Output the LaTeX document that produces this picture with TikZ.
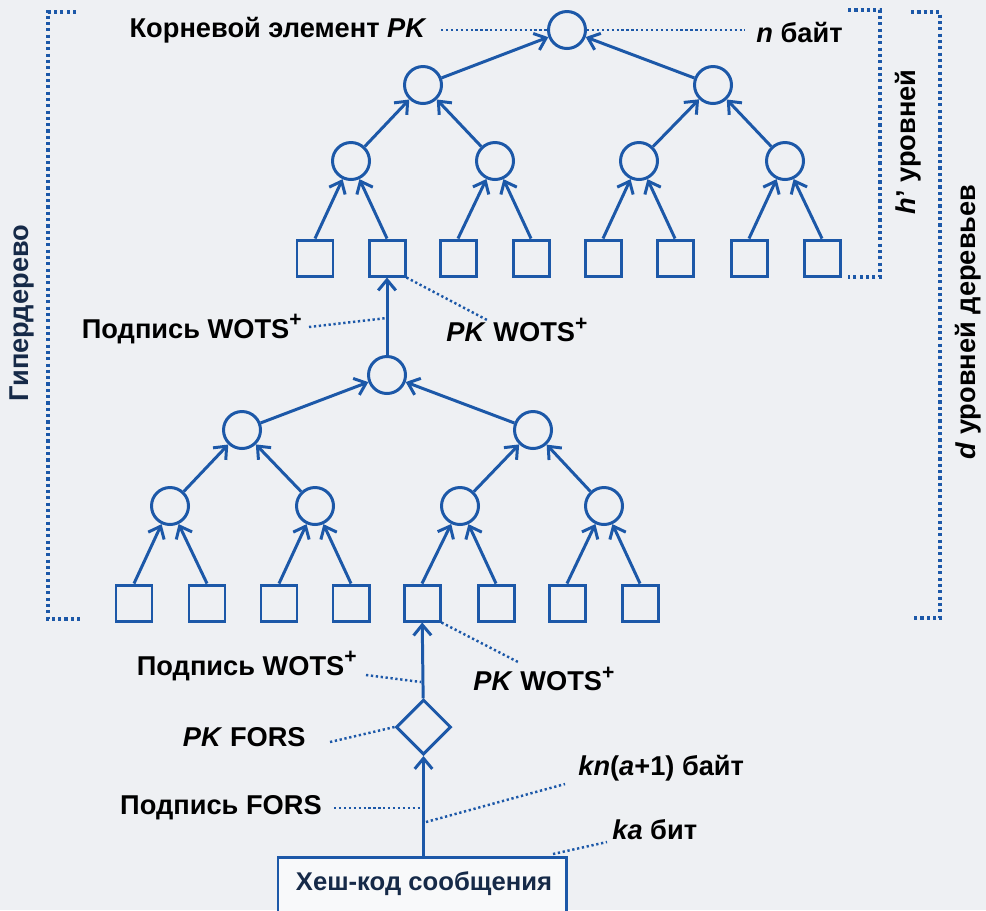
\documentclass[tikz,border=0pt]{standalone}
\usepackage{fontspec}
\setmainfont{Liberation Sans}
\usetikzlibrary{arrows.meta,shapes.geometric}
\definecolor{bgc}{RGB}{238,240,243}
\definecolor{bl}{RGB}{28,88,168}
\definecolor{navy}{RGB}{22,42,72}
\newcommand{\plusup}{\raisebox{0.42em}{\fontsize{12}{12}\selectfont +}}
\begin{document}
\begin{tikzpicture}[x=0.02cm,y=-0.02cm,
  circ/.style={circle,draw=bl,line width=1.7pt,minimum size=37*0.02cm,inner sep=0pt},
  sq/.style={rectangle,draw=bl,line width=1.7pt,minimum size=36*0.02cm,inner sep=0pt},
  dia/.style={diamond,draw=bl,line width=1.7pt,minimum size=55*0.02cm,inner sep=0pt,aspect=1},
  edge/.style={draw=bl,line width=1.7pt,-{Straight Barb[length=6pt,width=10pt,line width=1.7pt]}},
  lead/.style={draw=bl,line width=1.4pt,dash pattern=on 1.3pt off 1.5pt},
  brk/.style={draw=bl,line width=2pt,dash pattern=on 1.8pt off 1.8pt},
  lbl/.style={font=\fontsize{15.5}{18}\selectfont\bfseries,text=black,inner sep=0pt},
  nlbl/.style={font=\fontsize{15.5}{18}\selectfont\bfseries,text=navy,inner sep=0pt}]
\fill[bgc] (0,0) rectangle (986,910);
\useasboundingbox (0,0) rectangle (986,910);
% upper tree
\node[circ] (r) at (567,30) {};
\node[circ] (a1) at (423,85) {};
\node[circ] (a2) at (713,85) {};
\node[circ] (b1) at (351,161) {};
\node[circ] (b2) at (495,161) {};
\node[circ] (b3) at (639,161) {};
\node[circ] (b4) at (785,161) {};
\foreach \i/\x in {1/315,2/387,3/458,4/531,5/603,6/675,7/749,8/822}
  \node[sq] (u\i) at (\x,258) {};
\draw[edge] (a1) -- (r);
\draw[edge] (a2) -- (r);
\draw[edge] (b1) -- (a1);
\draw[edge] (b2) -- (a1);
\draw[edge] (b3) -- (a2);
\draw[edge] (b4) -- (a2);
\draw[edge] (u1.north) -- (b1);
\draw[edge] (u2.north) -- (b1);
\draw[edge] (u3.north) -- (b2);
\draw[edge] (u4.north) -- (b2);
\draw[edge] (u5.north) -- (b3);
\draw[edge] (u6.north) -- (b3);
\draw[edge] (u7.north) -- (b4);
\draw[edge] (u8.north) -- (b4);
% lower tree
\node[circ] (lr) at (387,375) {};
\node[circ] (la1) at (242,430) {};
\node[circ] (la2) at (533,430) {};
\node[circ] (lb1) at (170,506) {};
\node[circ] (lb2) at (315,506) {};
\node[circ] (lb3) at (460,506) {};
\node[circ] (lb4) at (604,506) {};
\foreach \i/\x in {1/134,2/207,3/279,4/351,5/422,6/496,7/567,8/640}
  \node[sq] (l\i) at (\x,603) {};
\draw[edge] (la1) -- (lr);
\draw[edge] (la2) -- (lr);
\draw[edge] (lb1) -- (la1);
\draw[edge] (lb2) -- (la1);
\draw[edge] (lb3) -- (la2);
\draw[edge] (lb4) -- (la2);
\draw[edge] (l1.north) -- (lb1);
\draw[edge] (l2.north) -- (lb1);
\draw[edge] (l3.north) -- (lb2);
\draw[edge] (l4.north) -- (lb2);
\draw[edge] (l5.north) -- (lb3);
\draw[edge] (l6.north) -- (lb3);
\draw[edge] (l7.north) -- (lb4);
\draw[edge] (l8.north) -- (lb4);
\draw[edge] (lr) -- (u2);
% FORS
\node[dia] (d) at (423.5,727) {};
\node[rectangle,draw=bl,fill=white!60!bgc,line width=1.7pt,minimum width=288*0.02cm,minimum height=70*0.02cm,inner sep=0pt,anchor=north] (h) at (422,856) {};
\node[nlbl,font=\fontsize{14.6}{17}\selectfont\bfseries] (ht) at (424,884) {Хеш-код сообщения};
\draw[edge] (d) -- (l5);
\draw[edge] (h.north -| d) -- (d);
% labels
\node[lbl,anchor=east] (t1) at (427,30) {Корневой элемент \textit{PK}};
\node[lbl,anchor=west] (t2) at (756,32) {\textit{n} байт};
\node[lbl,anchor=east] (t3) at (302,329) {Подпись WOTS\plusup};
\node[lbl,anchor=west] (t4) at (446,330) {\textit{PK} WOTS\plusup};
\node[lbl,anchor=east] (t5) at (357,666) {Подпись WOTS\plusup};
\node[lbl,anchor=west] (t6) at (473,679) {\textit{PK} WOTS\plusup};
\node[lbl,anchor=east] (t7) at (306,737) {\textit{PK} FORS};
\node[lbl,anchor=west] (t8) at (578,768) {\textit{kn}(\textit{a}+1) байт};
\node[lbl,anchor=east] (t9) at (322,808) {Подпись FORS};
\node[lbl,anchor=west] (t10) at (612,830) {\textit{ka} бит};
\node[nlbl,rotate=90] (g) at (22,313) {Гипердерево};
\node[lbl,rotate=90] (hl) at (908,142) {\textit{h}' уровней};
\node[lbl,rotate=90] (dl) at (968,322) {\textit{d} уровней деревьев};
% leaders
\coordinate (c1) at (441,30);
\coordinate (c2) at (745,30);
\coordinate (c3) at (309,327);
\coordinate (c3b) at (387,318);
\coordinate (c4) at (487,320);
\coordinate (c5) at (366,675);
\coordinate (c5b) at (421,682);
\coordinate (c6) at (518,662);
\coordinate (c7) at (330,742);
\coordinate (c8) at (334,808);
\coordinate (c8b) at (422,808);
\coordinate (c9) at (426,822);
\coordinate (c9b) at (565,784);
\coordinate (c10) at (553,854);
\coordinate (c10b) at (607,842);
\draw[lead] (c1) -- (r.west);
\draw[lead] (r.east) -- (c2);
\draw[lead] (c3) -- (c3b);
\draw[lead] (u2.south east) -- (c4);
\draw[lead] (c5) -- (c5b);
\draw[lead] (l5.south east) -- (c6);
\draw[lead] (c7) -- (d.west);
\draw[lead] (c8) -- (c8b);
\draw[lead] (c9) -- (c9b);
\draw[lead] (c10) -- (c10b);
% brackets
\draw[brk] (76,12) -- (48,12) -- (48,619) -- (81,619);
\draw[brk] (848,10) -- (880,10) -- (880,277) -- (848,277);
\draw[brk] (911,12) -- (940,12) -- (940,618) -- (911,618);
\end{tikzpicture}
\end{document}
